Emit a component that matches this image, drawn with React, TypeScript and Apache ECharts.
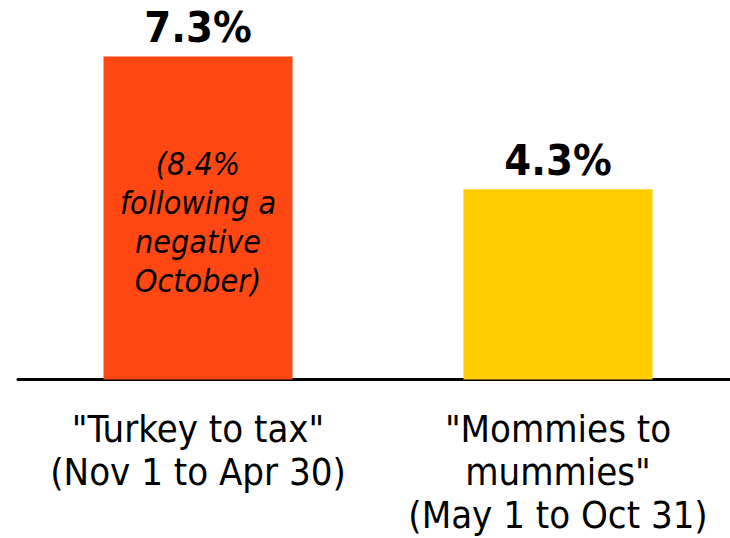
import React, { useEffect, useRef } from "react";
import * as echarts from "echarts";

const categories = ['"Turkey to tax"\n(Nov 1 to Apr 30)', '"Mommies to\nmummies"\n(May 1 to Oct 31)'];
const values = [7.3, 4.3];
const valueLabels = ["7.3%", "4.3%"];
const barColors = ["#FF4713", "#FFCC00"];
const noteValues = [7.3, null];
const noteText = "(8.4%\nfollowing a\nnegative\nOctober)";

const FONT = "'DejaVu Sans Condensed', 'Liberation Sans Narrow', 'Noto Sans', sans-serif";

export default function App() {
  const ref = useRef<HTMLDivElement>(null);
  useEffect(() => {
    document.body.style.margin = "0";
    const chart = echarts.init(ref.current!, null, { renderer: "svg" });
    chart.setOption({
      animation: false,
      grid: { left: 18, top: 25.5, width: 720, height: 354 },
      xAxis: {
        type: "category",
        data: categories,
        axisLine: { show: true, lineStyle: { color: "#000", width: 3 } },
        axisTick: { show: false },
        axisLabel: {
          interval: 0,
          margin: 28,
          fontSize: 38,
          lineHeight: 43,
          color: "#000",
          fontFamily: FONT,
        },
      },
      yAxis: { type: "value", min: 0, max: 8, show: false, splitLine: { show: false } },
      series: [
        {
          type: "bar",
          barWidth: "52.5%",
          data: values.map((v, i) => ({ value: v, itemStyle: { color: barColors[i] } })),
          label: {
            show: true,
            position: "top",
            distance: 8,
            formatter: (p: any) => valueLabels[p.dataIndex],
            fontSize: 43,
            fontWeight: "bold",
            color: "#000",
            fontFamily: FONT,
          },
        },
        {
          type: "bar",
          barWidth: "52.5%",
          barGap: "-100%",
          data: noteValues,
          itemStyle: { color: "transparent" },
          label: {
            show: true,
            position: "inside",
            offset: [0, 5],
            formatter: noteText,
            fontSize: 32,
            lineHeight: 39,
            fontStyle: "italic",
            color: "#000",
            fontFamily: FONT,
          },
        },
      ],
    });
    return () => chart.dispose();
  }, []);
  return (
    <div style={{ width: 730, height: 538, overflow: "hidden" }}>
      <div ref={ref} style={{ width: 740, height: 538 }} />
    </div>
  );
}
